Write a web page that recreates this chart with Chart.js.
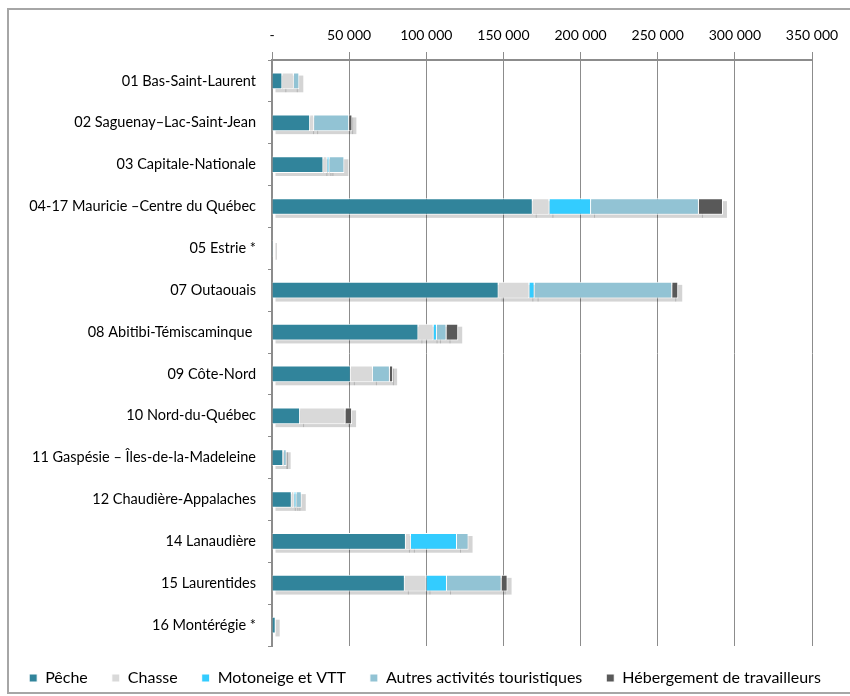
<!DOCTYPE html>
<html>
<head>
<meta charset="utf-8">
<script src="https://cdn.jsdelivr.net/npm/chart.js@4"></script>
<style>
  body { margin: 0; background: #fff; }
  #frame { position: absolute; left: 7px; top: 8px; width: 870px; height: 686px; border: 2px solid #a6a6a6; box-sizing: border-box; }
  #wrap { position: absolute; left: 0; top: 0; width: 850px; height: 696px; }
</style>
</head>
<body>
<div id="frame"></div>
<div id="wrap"><canvas id="myChart"></canvas></div>
<script>
// regions
const regions = [
  "01 Bas-Saint-Laurent",
  "02 Saguenay\u2013Lac-Saint-Jean",
  "03 Capitale-Nationale",
  "04-17 Mauricie \u2013Centre du Québec",
  "05 Estrie *",
  "07 Outaouais",
  "08 Abitibi-Témiscaminque ",
  "09 Côte-Nord",
  "10 Nord-du-Québec",
  "11 Gaspésie \u2013 Îles-de-la-Madeleine",
  "12 Chaudière-Appalaches",
  "14 Lanaudière",
  "15 Laurentides",
  "16 Montérégie *"
];

// values
const peche       = [6700, 24700, 33300, 169000, 600, 146900, 94900, 51100, 18200, 7300, 12800, 86800, 86100, 2400];
const chasse      = [7400, 2600, 2600, 10800, 0, 19900, 9800, 14300, 29400, 500, 1700, 3200, 14000, 0];
const motoneige   = [0, 0, 1300, 27000, 0, 3400, 2200, 0, 0, 0, 1300, 29900, 13300, 0];
const autres      = [3600, 22700, 9700, 69900, 0, 89200, 6200, 11000, 0, 1700, 3500, 7500, 35400, 0];
const hebergement = [0, 2100, 0, 15600, 0, 3900, 7600, 2100, 4300, 0, 0, 0, 3900, 0];

const xTicks = [0, 50000, 100000, 150000, 200000, 250000, 300000, 350000];

const FONT = "Lato, 'Open Sans', sans-serif";

//SHADOW UNDER THE BARS
const barShadow = {
  id: "barShadow",
  beforeDatasetsDraw(chart) {
    const ctx = chart.ctx;
    ctx.save();
    ctx.fillStyle = "rgba(0,0,0,0.17)";
    chart.data.datasets.forEach((ds, i) => {
      chart.getDatasetMeta(i).data.forEach((bar) => {
        const x0 = Math.min(bar.x, bar.base);
        const x1 = Math.max(bar.x, bar.base);
        if (x1 - x0 < 0.2) return;
        ctx.fillRect(x0 + 3, bar.y - bar.height / 2 + 3, x1 - x0 + 1, bar.height);
      });
    });
    ctx.restore();
  },
};

function makeSet(label, data, color) {
  return {
    label: label,
    data: data,
    backgroundColor: color,
    borderColor: "#ffffff",
    borderWidth: 1,
    borderSkipped: "start",
    barPercentage: 0.4,
    categoryPercentage: 1,
  };
}

const ctx = document.getElementById("myChart").getContext("2d");
const myChart = new Chart(ctx, {
  type: "bar",
  data: {
    labels: regions,
    datasets: [
      makeSet("Pêche", peche, "#31849b"),
      makeSet("Chasse", chasse, "#d9d9d9"),
      makeSet("Motoneige et VTT", motoneige, "#33ccff"),
      makeSet("Autres activités touristiques", autres, "#92c3d4"),
      makeSet("Hébergement de travailleurs", hebergement, "#595959"),
    ],
  },
  plugins: [barShadow],
  options: {
    indexAxis: "y",
    responsive: true,
    maintainAspectRatio: false,
    animation: false,
    layout: { padding: { top: 0, right: 0, bottom: 0, left: 0 } },
    scales: {
      x: {
        position: "top",
        stacked: true,
        min: 0,
        max: 350000,
        afterBuildTicks(axis) {
          axis.ticks = xTicks.map((v) => ({ value: v }));
        },
        afterFit(axis) {
          axis.height = 60;
          axis.paddingRight = 38;
        },
        ticks: {
          color: "#000",
          font: { family: FONT, size: 14 },
          padding: 8,
          callback: (v) => (v === 0 ? "-" : String(v).replace(/\B(?=(\d{3})+(?!\d))/g, " ")),
        },
        grid: { color: "#8c8c8c", lineWidth: 1, tickLength: 8 },
        border: { color: "#8c8c8c", width: 2 },
      },
      y: {
        stacked: true,
        afterFit(axis) {
          axis.width = 272;
        },
        ticks: {
          color: "#000",
          font: { family: FONT, size: 14.5 },
          padding: 12,
        },
        grid: { offset: true, drawOnChartArea: false, tickLength: 4, color: "#8c8c8c" },
        border: { color: "#8c8c8c", width: 2 },
      },
    },
    plugins: {
      legend: {
        position: "bottom",
        labels: {
          color: "#000",
          font: { family: FONT, size: 16 },
          boxWidth: 8,
          boxHeight: 8,
          padding: 24,
        },
      },
      tooltip: { enabled: false },
    },
  },
});
</script>
</body>
</html>
